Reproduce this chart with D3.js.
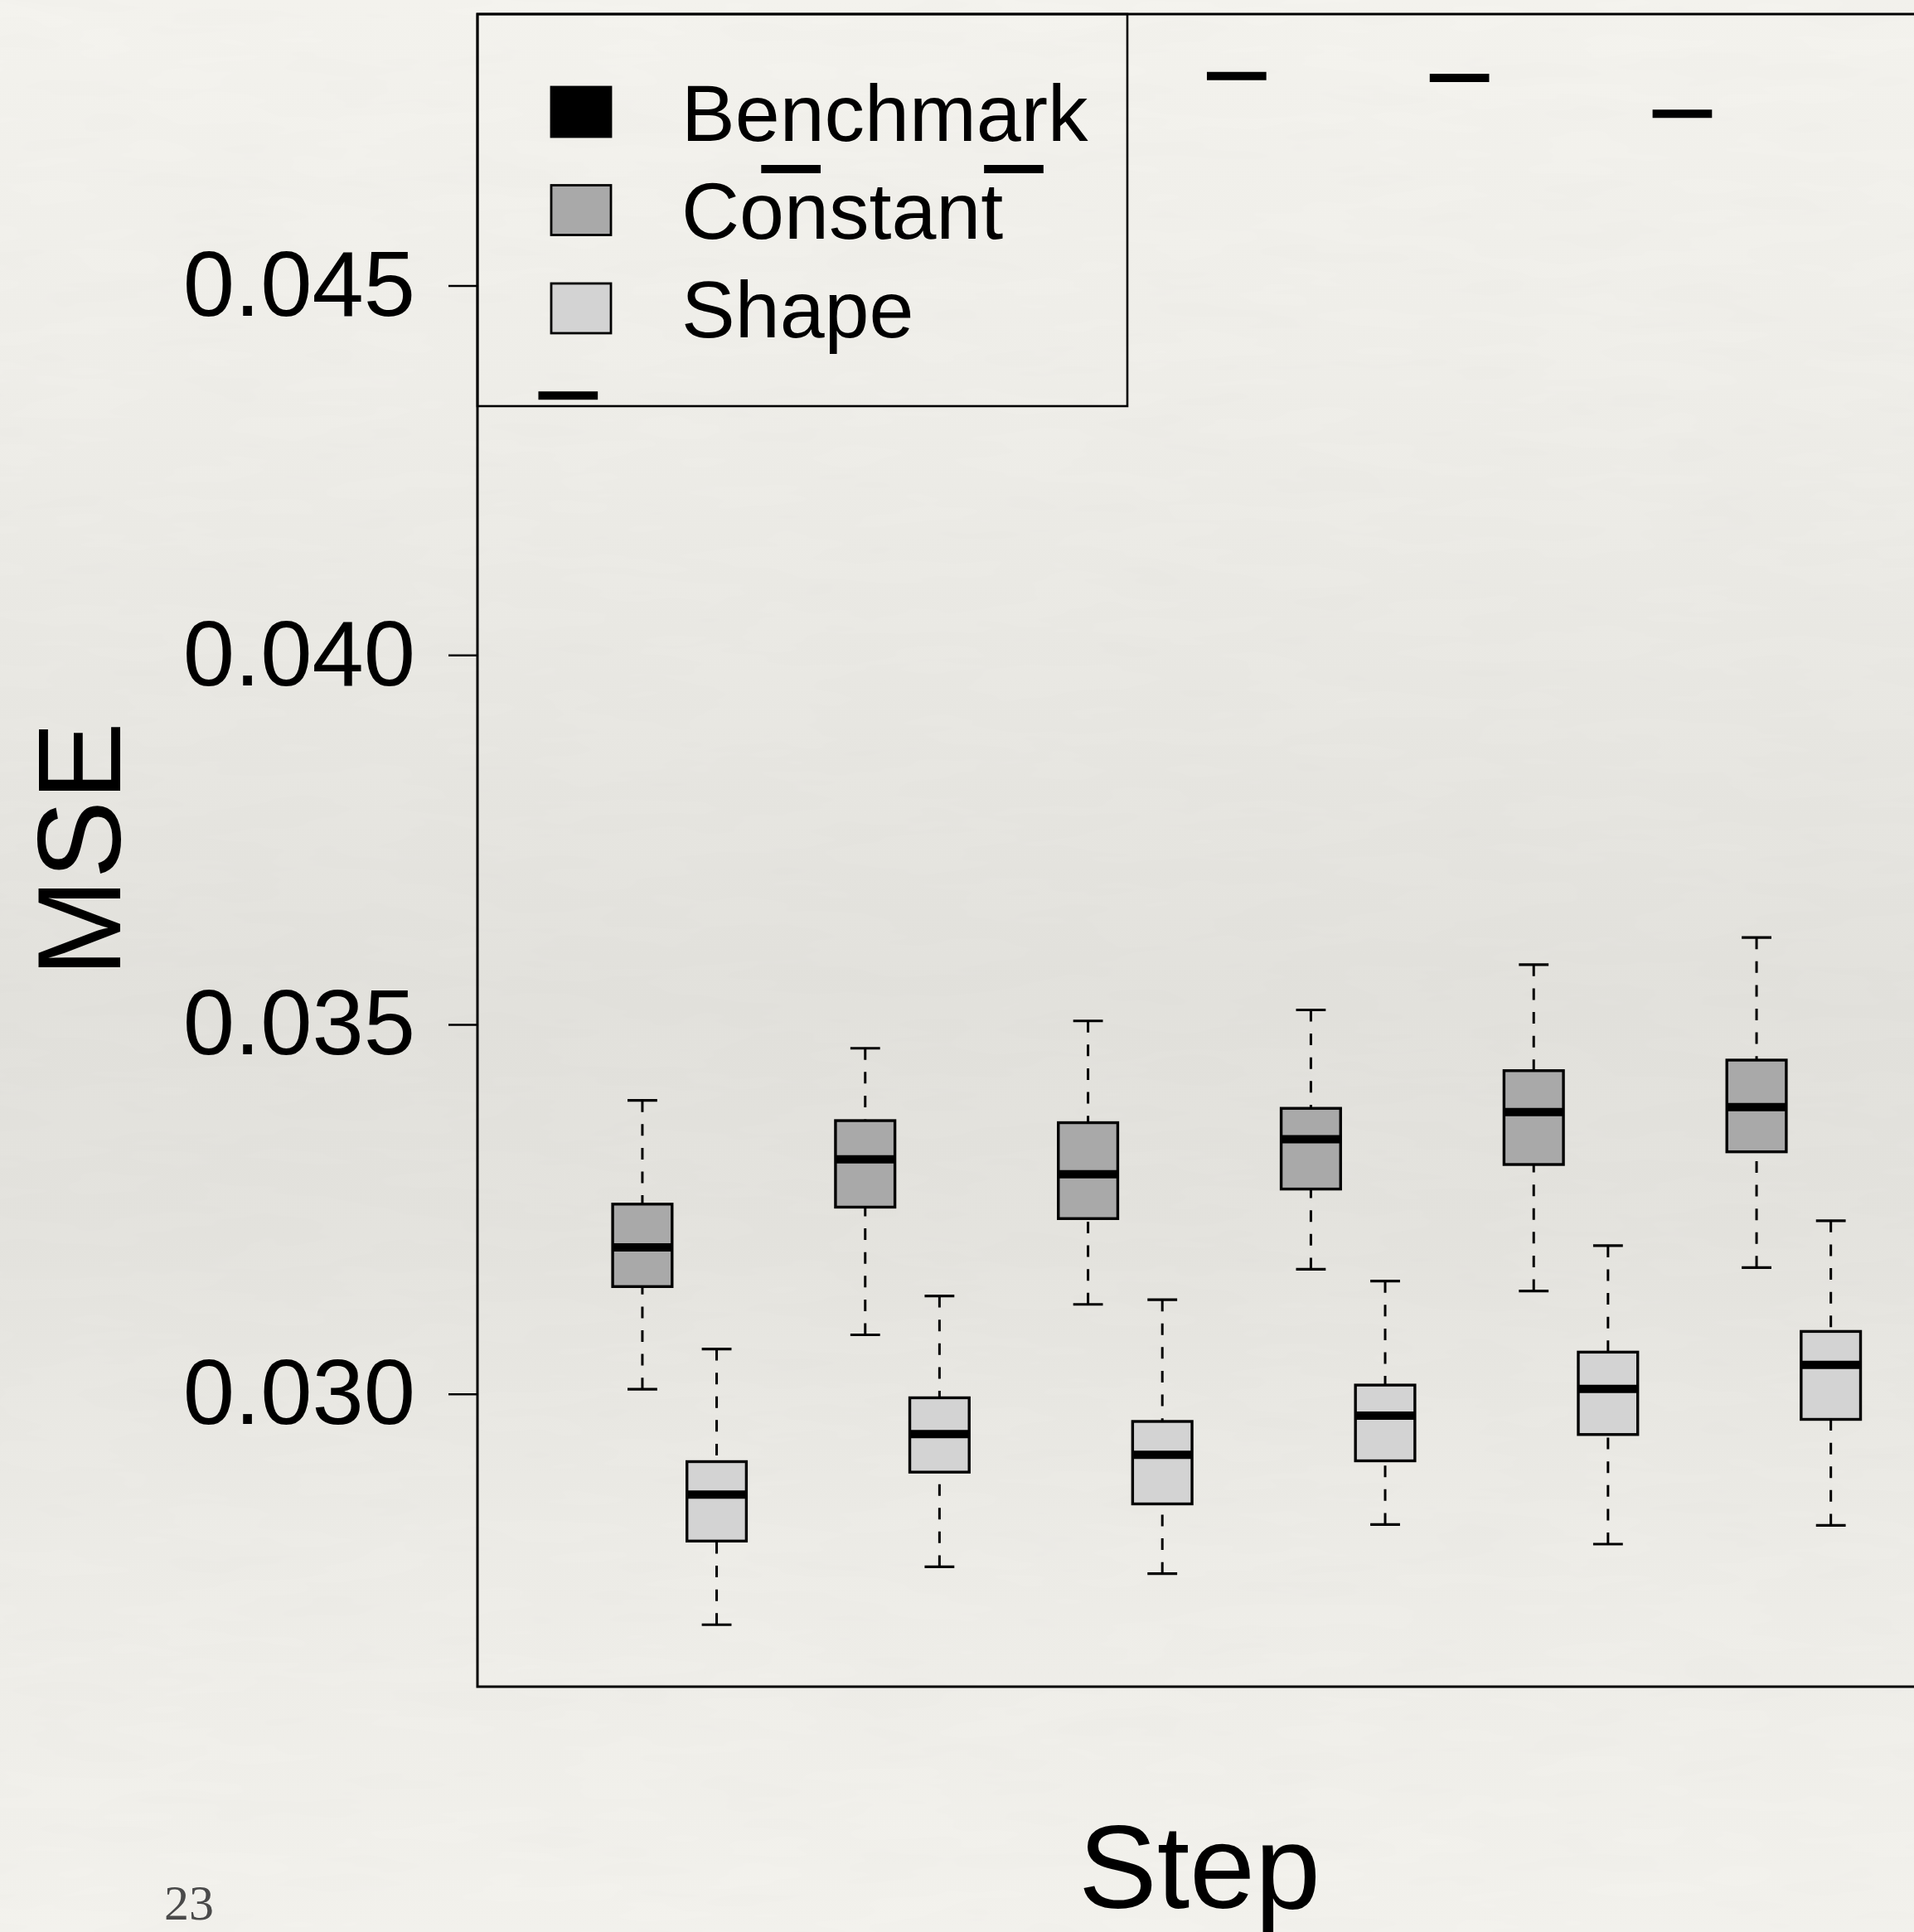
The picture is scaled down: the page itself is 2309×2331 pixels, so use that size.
<!DOCTYPE html>
<html>
<head>
<meta charset="utf-8">
<script src="https://cdn.jsdelivr.net/npm/d3@7"></script>
<style>
  html, body { margin: 0; padding: 0; background: #f1f0eb; }
  svg { display: block; }
  text { fill: #000; }
</style>
</head>
<body>
<script>
// ---- data: MSE per forecasting step, five-number summaries [lower whisker, Q1, median, Q3, upper whisker]
const steps = [1, 2, 3, 4, 5, 6];
const methods = ["Benchmark", "Constant", "Shape"];

// benchmark errors are identical across replications, so each box collapses to a line
const benchmarkMSE = [0.043511, 0.046575, 0.046575, 0.047834, 0.047808, 0.047323];

const constantStats = [
  [0.030062, 0.031452, 0.031983, 0.032568, 0.033971],
  [0.030799, 0.032527, 0.033173, 0.033698, 0.034677],
  [0.031211, 0.032372, 0.032973, 0.033670, 0.035047],
  [0.031686, 0.032772, 0.033447, 0.033864, 0.035196],
  [0.031393, 0.033104, 0.033814, 0.034374, 0.035809],
  [0.031709, 0.033276, 0.033882, 0.034517, 0.036175]
];

const shapeStats = [
  [0.026876, 0.028008, 0.028637, 0.029083, 0.030608],
  [0.027659, 0.028941, 0.029455, 0.029947, 0.031325],
  [0.027567, 0.028511, 0.029175, 0.029627, 0.031274],
  [0.028231, 0.029094, 0.029706, 0.030119, 0.031526],
  [0.027967, 0.029450, 0.030067, 0.030565, 0.032006],
  [0.028220, 0.029655, 0.030393, 0.030845, 0.032343]
];

const yTicks = [0.030, 0.035, 0.040, 0.045];
const yLabel = "MSE";
const xLabel = "Step";
const pageNumber = "23";

// ---- styling
const SANS = "\"Liberation Sans\", Arial, Helvetica, sans-serif";
const SERIF = "\"Liberation Serif\", \"DejaVu Serif\", serif";
const fills = { Benchmark: "#000000", Constant: "#a9a9a9", Shape: "#d3d3d3" };
const W = 2309, H = 2331;
const plot = { left: 576, top: 17, right: 2318, bottom: 2035 };

// one box per (step, method), laid out consecutively like base R boxplot
const boxes = [];
steps.forEach((s, i) => {
  const b = benchmarkMSE[i];
  boxes.push({ step: s, method: "Benchmark", stats: [b, b, b, b, b] });
  boxes.push({ step: s, method: "Constant", stats: constantStats[i] });
  boxes.push({ step: s, method: "Shape", stats: shapeStats[i] });
});
boxes.forEach((d, i) => d.pos = i + 1);

const n = boxes.length;
// x limits c(0.5, n + 0.5) widened by 4%
const xPad = 0.04 * n;
const x = d3.scaleLinear().domain([0.5 - xPad, n + 0.5 + xPad]).range([plot.left, plot.right]);

// y limits: data range widened by 4%
const allVals = boxes.flatMap(d => d.stats);
const yMin = d3.min(allVals), yMax = d3.max(allVals);
const yPad = 0.04 * (yMax - yMin);
const y = d3.scaleLinear().domain([yMin - yPad, yMax + yPad]).range([plot.bottom, plot.top]);

const unit = x(2) - x(1);
const boxW = 0.8 * unit;
const capW = boxW / 2;

const svg = d3.select("body").append("svg").attr("width", W).attr("height", H);

// ---- paper background
const defs = svg.append("defs");
const grad = defs.append("linearGradient").attr("id", "paper").attr("x1", 0).attr("y1", 0).attr("x2", 0).attr("y2", 1);
[[0, "#f5f4ef"], [0.2, "#f0efea"], [0.4, "#e8e7e2"], [0.52, "#e3e2dd"], [0.64, "#e5e4df"], [0.8, "#eeede8"], [1, "#f4f3ee"]]
  .forEach(([o, c]) => grad.append("stop").attr("offset", o).attr("stop-color", c));
const filt = defs.append("filter").attr("id", "grain").attr("x", 0).attr("y", 0).attr("width", 1).attr("height", 1);
filt.append("feTurbulence").attr("type", "fractalNoise").attr("baseFrequency", "0.006 0.03").attr("numOctaves", 3).attr("seed", 7);
filt.append("feColorMatrix").attr("values", "0 0 0 0 0.45  0 0 0 0 0.44  0 0 0 0 0.42  0 0 0 0.06 0");
svg.append("rect").attr("width", W).attr("height", H).attr("fill", "url(#paper)");
svg.append("rect").attr("width", W).attr("height", H).attr("filter", "url(#grain)");

// ---- y axis
const yAxis = d3.axisLeft(y).tickValues(yTicks).tickFormat(d3.format(".3f")).tickSize(35).tickPadding(40);
const gy = svg.append("g").attr("transform", `translate(${plot.left},0)`).call(yAxis);
gy.select(".domain").remove();
gy.selectAll(".tick line").attr("stroke", "#000").attr("stroke-width", 2.5);
gy.selectAll(".tick text").style("font-family", SANS).style("font-size", "112px").style("fill", "#000");

// ---- boxes
const g = svg.append("g");
const bx = g.selectAll("g.box").data(boxes).join("g").attr("class", "box");

// whiskers (dashed, drawn from whisker end toward the box)
bx.append("line")
  .attr("x1", d => x(d.pos)).attr("x2", d => x(d.pos))
  .attr("y1", d => y(d.stats[0])).attr("y2", d => y(d.stats[1]))
  .attr("stroke", "#000").attr("stroke-width", 3).attr("stroke-dasharray", "14,14.6");
bx.append("line")
  .attr("x1", d => x(d.pos)).attr("x2", d => x(d.pos))
  .attr("y1", d => y(d.stats[4])).attr("y2", d => y(d.stats[3]))
  .attr("stroke", "#000").attr("stroke-width", 3).attr("stroke-dasharray", "14,14.6");
// staples
[0, 4].forEach(k => {
  bx.append("line")
    .attr("x1", d => x(d.pos) - capW / 2).attr("x2", d => x(d.pos) + capW / 2)
    .attr("y1", d => y(d.stats[k])).attr("y2", d => y(d.stats[k]))
    .attr("stroke", "#000").attr("stroke-width", 3.2);
});
// box
bx.append("rect")
  .attr("x", d => x(d.pos) - boxW / 2).attr("width", boxW)
  .attr("y", d => y(d.stats[3])).attr("height", d => y(d.stats[1]) - y(d.stats[3]))
  .attr("fill", d => fills[d.method]).attr("stroke", "#000").attr("stroke-width", 3.4);
// median
bx.append("line")
  .attr("x1", d => x(d.pos) - boxW / 2).attr("x2", d => x(d.pos) + boxW / 2)
  .attr("y1", d => y(d.stats[2])).attr("y2", d => y(d.stats[2]))
  .attr("stroke", "#000").attr("stroke-width", 10);

// ---- plot frame
svg.append("rect")
  .attr("x", plot.left).attr("y", plot.top)
  .attr("width", plot.right - plot.left).attr("height", plot.bottom - plot.top)
  .attr("fill", "none").attr("stroke", "#000").attr("stroke-width", 3);

// ---- legend (transparent background)
const leg = { left: plot.left, top: plot.top, right: 1360, bottom: 490 };
svg.append("rect")
  .attr("x", leg.left).attr("y", leg.top)
  .attr("width", leg.right - leg.left).attr("height", leg.bottom - leg.top)
  .attr("fill", "none").attr("stroke", "#000").attr("stroke-width", 2.6);
const rowY = d3.scalePoint().domain(methods).range([135, 372]);
const lg = svg.append("g").selectAll("g").data(methods).join("g");
lg.append("rect")
  .attr("x", 665).attr("y", d => rowY(d) - 30).attr("width", 72).attr("height", 60)
  .attr("fill", d => fills[d]).attr("stroke", "#000").attr("stroke-width", 2.8);
lg.append("text")
  .attr("x", 822).attr("y", d => rowY(d)).attr("dy", "0.36em")
  .style("font-family", SANS).style("font-size", "97px").text(d => d);

// ---- axis titles
svg.append("text")
  .attr("transform", `translate(145,1025) rotate(-90)`)
  .attr("text-anchor", "middle").style("font-family", SANS).style("font-size", "142px").text(yLabel);
svg.append("text")
  .attr("x", (plot.left + plot.right) / 2).attr("y", 2302)
  .attr("text-anchor", "middle").style("font-family", SANS).style("font-size", "142px").text(xLabel);

// ---- page number
svg.append("text")
  .attr("x", 198).attr("y", 2316)
  .style("font-family", SERIF).style("font-size", "60px").style("fill", "#4a4a4a").text(pageNumber);
</script>
</body>
</html>
